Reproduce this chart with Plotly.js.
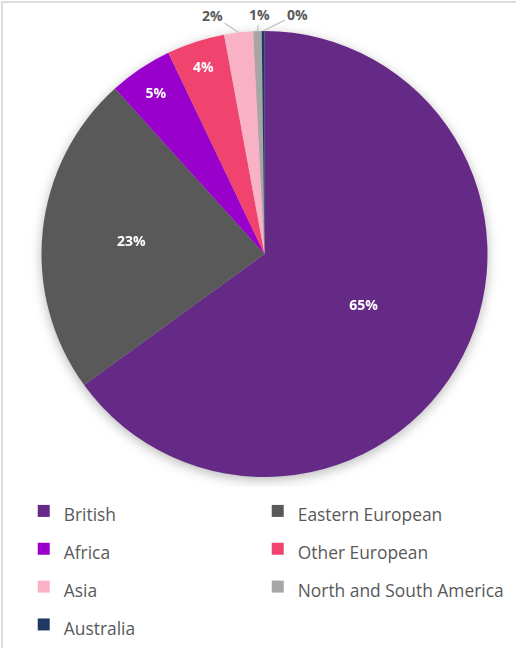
<!DOCTYPE html>
<html>
<head>
<meta charset="utf-8">
<script src="https://cdn.plot.ly/plotly-3.0.1.min.js"></script>
<style>
  html, body { margin: 0; padding: 0; background: #fff; }
  #frame { position: absolute; left: 1px; top: 1px; width: 515px; height: 647px; box-sizing: border-box;
           border-left: 2px solid #dcdcdc; border-top: 2px solid #dcdcdc; pointer-events: none; }
  #chart { position: absolute; left: 0; top: 0; width: 516px; height: 648px; }
  .pielayer .trace { filter: drop-shadow(0px 3px 6px rgba(0,0,0,0.28)); }
  .legend .scrollbox { clip-path: none !important; }
</style>
</head>
<body>
<div id="chart"></div>
<div id="frame"></div>
<script>
const categories = ['British', 'Eastern European', 'Africa', 'Other European', 'Asia', 'North and South America', 'Australia'];
const shares = [65.0, 23.3, 4.6, 4.2, 2.1, 0.6, 0.2];
const colors = ['#652A86', '#595959', '#9900CC', '#F0446F', '#F8B1C5', '#A6A6A6', '#203864'];
const insideLabel = [true, true, true, true, false, false, false];
// offsets (px) of the outside labels from the slice edge, for the small slices
const outsideOffsetX = [0, 0, 0, 0, -26, 2, 34];
const outsideOffsetY = [0, 0, 0, 0, -17, -17, -17];

const W = 516, H = 648;
const cxPx = 264.5, cyPx = 254, rPx = 223;
const domX = [(cxPx - rPx) / W, (cxPx + rPx) / W];
const domY = [1 - (cyPx + rPx) / H, 1 - (cyPx - rPx) / H];

const legendLabels = categories.map(c => '<span style="font-size:17.4px">' + c + '</span>');

const trace = {
  type: 'pie',
  labels: legendLabels,
  values: shares,
  sort: false,
  direction: 'clockwise',
  rotation: 0,
  marker: { colors: colors, line: { color: '#ffffff', width: 0 } },
  texttemplate: '%{percent:.0%}',
  textposition: insideLabel.map(b => b ? 'inside' : 'none'),
  insidetextorientation: 'horizontal',
  textfont: { family: 'Open Sans, Arial, sans-serif', size: 14, color: '#ffffff', weight: 'bold' },
  automargin: false,
  hoverinfo: 'none',
  domain: { x: domX, y: domY }
};

// outside labels for the thin slices, placed from the data angles
const total = shares.reduce((a, b) => a + b, 0);
const annotations = [];
let cum = 0;
shares.forEach((v, i) => {
  const mid = (cum + v / 2) / total;
  cum += v;
  if (insideLabel[i]) return;
  const th = 2 * Math.PI * mid;
  const ex = cxPx + rPx * Math.sin(th);
  const ey = cyPx - rPx * Math.cos(th);
  annotations.push({
    x: ex / W, y: 1 - ey / H, xref: 'paper', yref: 'paper',
    text: Math.round(v / total * 100) + '%',
    showarrow: true, arrowhead: 0, arrowwidth: 1.2, arrowcolor: '#bfbfbf', standoff: 0,
    ax: outsideOffsetX[i], ay: outsideOffsetY[i],
    font: { family: 'Open Sans, Arial, sans-serif', size: 14, color: '#595959', weight: 'bold' }
  });
});

const layout = {
  width: W, height: H,
  margin: { l: 0, r: 0, t: 0, b: 0, autoexpand: false },
  paper_bgcolor: '#ffffff',
  showlegend: true,
  annotations: annotations,
  legend: {
    orientation: 'h',
    x: 0.046, y: 1 - 487 / H, xanchor: 'left', yanchor: 'top',
    entrywidth: 189, entrywidthmode: 'pixels',
    font: { family: 'Open Sans, Arial, sans-serif', size: 26.8, color: '#595959' },
    itemclick: false
  }
};

Plotly.newPlot('chart', [trace], layout, { displayModeBar: false, staticPlot: true });
</script>
</body>
</html>
